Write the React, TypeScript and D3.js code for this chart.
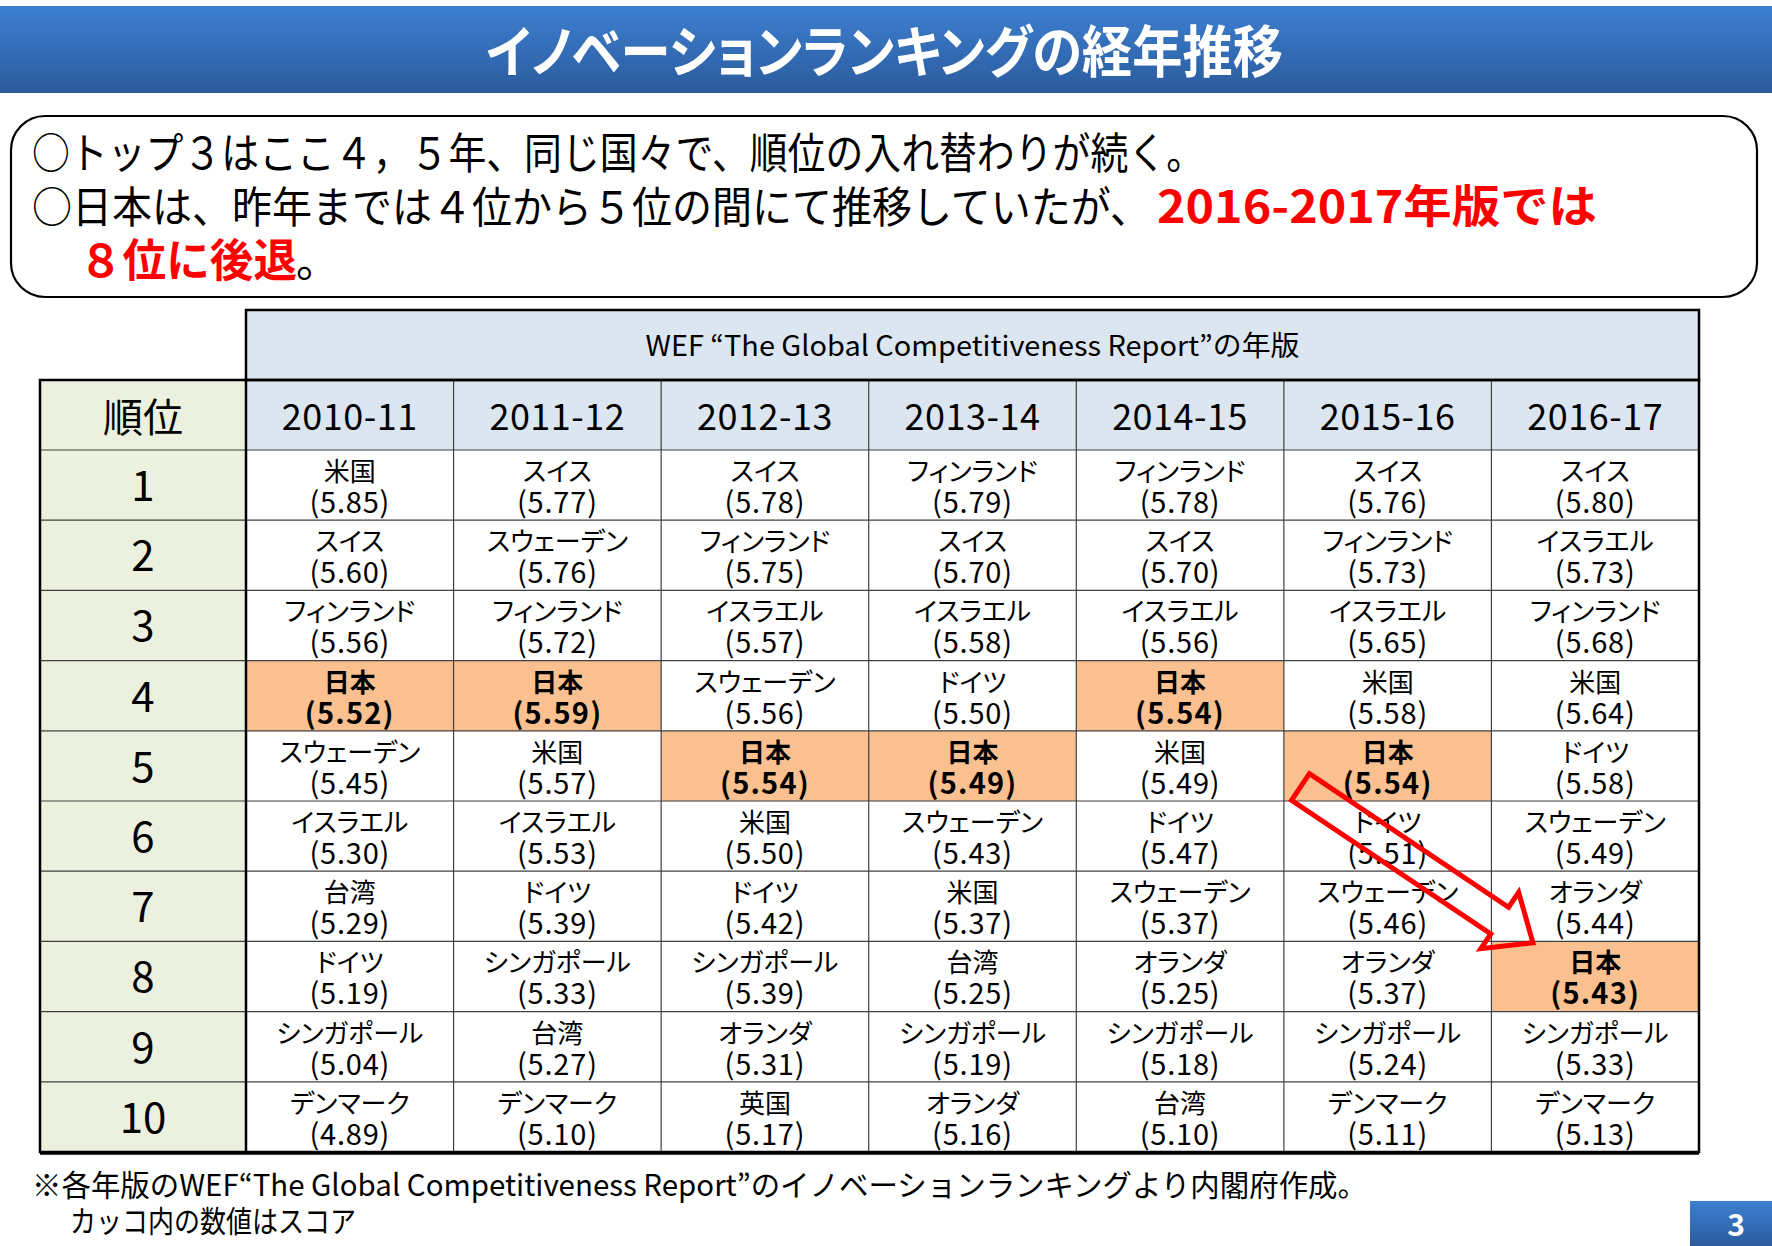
import * as d3 from 'd3'

// 各年版 (columns) and ranks (rows)
const editions = ['2010-11', '2011-12', '2012-13', '2013-14', '2014-15', '2015-16', '2016-17']
const ranks = [1, 2, 3, 4, 5, 6, 7, 8, 9, 10]

// countries per edition, rank 1..10
const names2010 = ['米国', 'スイス', 'フィンランド', '日本', 'スウェーデン', 'イスラエル', '台湾', 'ドイツ', 'シンガポール', 'デンマーク']
const names2011 = ['スイス', 'スウェーデン', 'フィンランド', '日本', '米国', 'イスラエル', 'ドイツ', 'シンガポール', '台湾', 'デンマーク']
const names2012 = ['スイス', 'フィンランド', 'イスラエル', 'スウェーデン', '日本', '米国', 'ドイツ', 'シンガポール', 'オランダ', '英国']
const names2013 = ['フィンランド', 'スイス', 'イスラエル', 'ドイツ', '日本', 'スウェーデン', '米国', '台湾', 'シンガポール', 'オランダ']
const names2014 = ['フィンランド', 'スイス', 'イスラエル', '日本', '米国', 'ドイツ', 'スウェーデン', 'オランダ', 'シンガポール', '台湾']
const names2015 = ['スイス', 'フィンランド', 'イスラエル', '米国', '日本', 'ドイツ', 'スウェーデン', 'オランダ', 'シンガポール', 'デンマーク']
const names2016 = ['スイス', 'イスラエル', 'フィンランド', '米国', 'ドイツ', 'スウェーデン', 'オランダ', '日本', 'シンガポール', 'デンマーク']

// scores per edition
const scores2010 = [5.85, 5.60, 5.56, 5.52, 5.45, 5.30, 5.29, 5.19, 5.04, 4.89]
const scores2011 = [5.77, 5.76, 5.72, 5.59, 5.57, 5.53, 5.39, 5.33, 5.27, 5.10]
const scores2012 = [5.78, 5.75, 5.57, 5.56, 5.54, 5.50, 5.42, 5.39, 5.31, 5.17]
const scores2013 = [5.79, 5.70, 5.58, 5.50, 5.49, 5.43, 5.37, 5.25, 5.19, 5.16]
const scores2014 = [5.78, 5.70, 5.56, 5.54, 5.49, 5.47, 5.37, 5.25, 5.18, 5.10]
const scores2015 = [5.76, 5.73, 5.65, 5.58, 5.54, 5.51, 5.46, 5.37, 5.24, 5.11]
const scores2016 = [5.80, 5.73, 5.68, 5.64, 5.58, 5.49, 5.44, 5.43, 5.33, 5.13]

const allNames = [names2010, names2011, names2012, names2013, names2014, names2015, names2016]
const allScores = [scores2010, scores2011, scores2012, scores2013, scores2014, scores2015, scores2016]

const W = 1772
const H = 1246
const jp = '"Noto Sans CJK JP", "Noto Sans", sans-serif'
const palt = { fontFeatureSettings: '"palt"' }

const App = () => {
  const x = d3.scaleBand<string>().domain(editions).range([246, 1699])
  const y = d3.scaleBand<number>().domain(ranks).range([450, 1152])
  const bw = x.bandwidth()
  const rh = y.bandwidth()
  const left = 40
  const right = 1699
  const top = 310
  const headTop = 380
  const bottom = 1152

  const cells = editions.flatMap((ed, ci) =>
    ranks.map((r, ri) => ({ ed, r, name: allNames[ci][ri], score: allScores[ci][ri] }))
  )

  // arrow: from 2015-16 rank 5 (Japan) to 2016-17 rank 8 (Japan)
  const p0 = [x('2015-16')! + bw * 0.08, y(5)! + rh * 0.8]
  const p1 = [x('2016-17')! + bw * 0.2, y(8)! + rh * 0.02]
  const dx = p1[0] - p0[0], dy = p1[1] - p0[1]
  const len = Math.hypot(dx, dy)
  const u = [dx / len, dy / len]
  const n = [-u[1], u[0]]
  const sw = 16, hw = 34, hl = 40
  const pt = (along: number, side: number) =>
    [p0[0] + u[0] * along + n[0] * side, p0[1] + u[1] * along + n[1] * side].join(',')
  const arrowPts = [
    pt(0, -sw), pt(len - hl, -sw), pt(len - hl, -hw), pt(len, 0),
    pt(len - hl, hw), pt(len - hl, sw), pt(0, sw),
  ].join(' ')

  return (
    <svg width={W} height={H} style={{ position: 'absolute', left: 0, top: 0, background: '#fff' }} fontFamily={jp}>
      <defs>
        <linearGradient id="titleGrad" x1="0" y1="0" x2="0" y2="1">
          <stop offset="0" stopColor="#3d7fd1" />
          <stop offset="1" stopColor="#2b5b9c" />
        </linearGradient>
      </defs>

      {/* title bar */}
      <rect x={0} y={6} width={W} height={87} fill="url(#titleGrad)" />
      <text x={486} y={72} fontSize={56} fontWeight="bold" fill="#fff" textLength={797}
        lengthAdjust="spacingAndGlyphs" style={palt}>イノベーションランキングの経年推移</text>

      {/* summary box */}
      <rect x={11} y={116} width={1746} height={181} rx={34} fill="#fff" stroke="#000" strokeWidth={2.2} />
      <text x={32} y={169} fontSize={43} fill="#000" textLength={1172} lengthAdjust="spacingAndGlyphs">
        ○トップ３はここ４，５年、同じ国々で、順位の入れ替わりが続く。
      </text>
      <text x={32} y={223} fontSize={43} fill="#000" textLength={1118} lengthAdjust="spacingAndGlyphs">
        ○日本は、昨年までは４位から５位の間にて推移していたが、
      </text>
      <text x={1157} y={223} fontSize={45} fontWeight="bold" fill="#ff0000" textLength={440}
        lengthAdjust="spacingAndGlyphs">2016-2017年版では</text>
      <text x={79} y={277} fontSize={45} fontWeight="bold" fill="#ff0000" textLength={218}
        lengthAdjust="spacingAndGlyphs">８位に後退</text>
      <text x={296} y={277} fontSize={43} fill="#000">。</text>

      {/* header blocks */}
      <rect x={x.range()[0]} y={top} width={right - x.range()[0]} height={headTop - top} fill="#dce6f1" />
      <rect x={x.range()[0]} y={headTop} width={right - x.range()[0]} height={rh} fill="#dce6f1" />
      <rect x={left} y={headTop} width={x.range()[0] - left} height={bottom - headTop} fill="#ebf1de" />

      {/* cells: country name + score as one two-line label */}
      {cells.map(c => {
        const isJp = c.name === '日本'
        const cx = x(c.ed)! + bw / 2
        const cy = y(c.r)!
        return (
          <g key={c.ed + c.r}>
            {isJp && <rect x={x(c.ed)} y={cy} width={bw} height={rh} fill="#fac090" />}
            <text x={cx} y={cy + 31} textAnchor="middle" fontWeight={isJp ? 'bold' : 'normal'} fill="#000">
              <tspan x={cx} fontSize={26} style={palt}>{c.name}</tspan>
              <tspan x={cx} dy={32} fontSize={29} letterSpacing={isJp ? 1.2 : 0.8}>({c.score.toFixed(2)})</tspan>
            </text>
          </g>
        )
      })}

      {/* header text */}
      <text x={(x.range()[0] + right) / 2} y={top + 46} textAnchor="middle" fontSize={28} fill="#000"
        textLength={654} lengthAdjust="spacingAndGlyphs">WEF “The Global Competitiveness Report”の年版</text>
      {editions.map(ed => (
        <text key={ed} x={x(ed)! + bw / 2} y={headTop + 50} textAnchor="middle" fontSize={36} fill="#000"
          letterSpacing={0.5}>{ed}</text>
      ))}
      <text x={(left + x.range()[0]) / 2} y={headTop + 52} textAnchor="middle" fontSize={40} fill="#000">順位</text>
      {ranks.map(r => (
        <text key={r} x={(left + x.range()[0]) / 2} y={y(r)! + 51} textAnchor="middle" fontSize={42} fill="#000">{r}</text>
      ))}

      {/* grid lines */}
      <g stroke="#404040" strokeWidth={1.2}>
        {ranks.map(r => (
          <line key={r} x1={left} x2={right} y1={y(r)} y2={y(r)} />
        ))}
        {editions.slice(1).map(ed => (
          <line key={ed} x1={x(ed)} x2={x(ed)} y1={headTop} y2={bottom} />
        ))}
        <line x1={x.range()[0]} x2={right} y1={headTop} y2={headTop} />
      </g>
      <g stroke="#000" strokeWidth={2.5} fill="none">
        <rect x={x.range()[0]} y={top} width={right - x.range()[0]} height={headTop - top} />
        <rect x={left} y={headTop} width={right - left} height={bottom - headTop} />
        <line x1={x.range()[0]} x2={x.range()[0]} y1={headTop} y2={bottom} />
        <line x1={left} x2={right} y1={bottom + 1} y2={bottom + 1} strokeWidth={3.5} />
      </g>

      {/* arrow */}
      <polygon points={arrowPts} fill="none" stroke="#ff0000" strokeWidth={5} strokeLinejoin="miter" />

      {/* footnote */}
      <text x={32} y={1196} fontSize={30} fill="#000" textLength={1335} lengthAdjust="spacingAndGlyphs">
        ※各年版のWEF“The Global Competitiveness Report”のイノベーションランキングより内閣府作成。
      </text>
      <text x={70} y={1232} fontSize={30} fill="#000" textLength={286} lengthAdjust="spacingAndGlyphs">
        カッコ内の数値はスコア
      </text>

      {/* page number */}
      <rect x={1690} y={1201} width={W - 1690} height={H - 1201} fill="url(#titleGrad)" />
      <text x={1736} y={1236} textAnchor="middle" fontSize={30} fontWeight="bold" fill="#fff">3</text>
    </svg>
  )
}

export default App
